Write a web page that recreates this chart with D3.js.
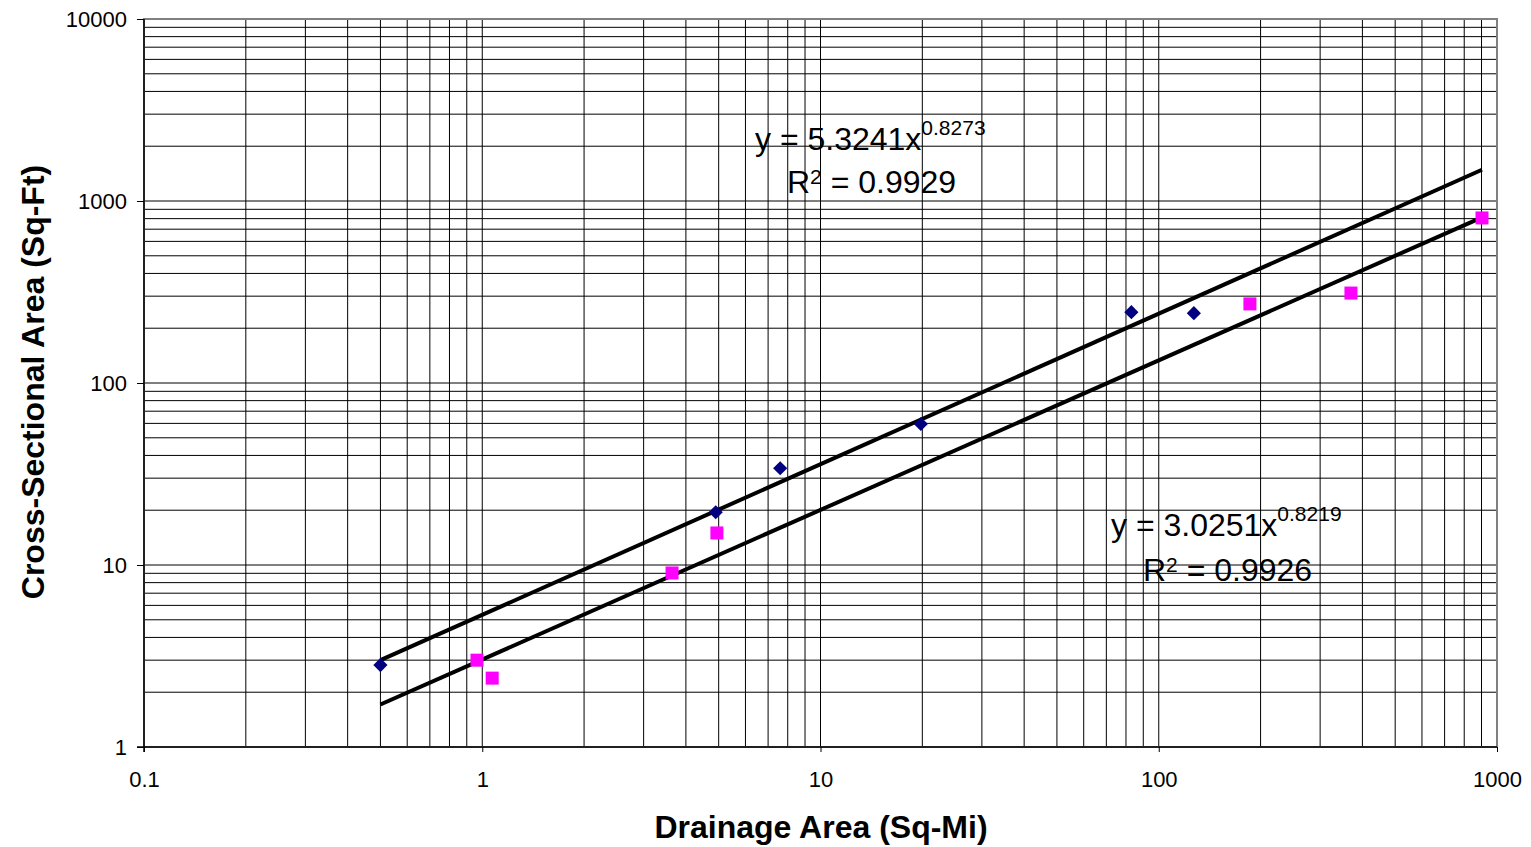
<!DOCTYPE html>
<html>
<head>
<meta charset="utf-8">
<script src="https://cdn.jsdelivr.net/npm/d3@7"></script>
<style>
  body { margin: 0; background: #fff; }
  svg { display: block; font-family: "Liberation Sans", Arial, sans-serif; }
</style>
</head>
<body>
<svg></svg>
<script>
// series 1 (navy diamonds)
let blueX = [0.5, 4.9, 7.6, 19.8, 83, 127]
let blueY = [2.82, 19.5, 34, 59.5, 245, 242]
// series 2 (magenta squares)
let pinkX = [0.965, 1.07, 3.64, 4.94, 186, 370, 903]
let pinkY = [3.0, 2.39, 9.04, 15.0, 272, 312, 807]

// power trend lines y = a * x^b
let fitA = [5.3241, 3.0251]
let fitB = [0.8273, 0.8219]
let fitR2 = ['0.9929', '0.9926']
let fitRange = [0.5, 903]

let xTicks = [0.1, 1, 10, 100, 1000]
let yTicks = [1, 10, 100, 1000, 10000]

let width = 1531
let height = 847
let plotL = 144, plotR = 1497, plotT = 19, plotB = 747

let svg = d3.select('svg').attr('width', width).attr('height', height)

let xScale = d3.scaleLog().domain([0.1, 1000]).range([plotL, plotR])
let yScale = d3.scaleLog().domain([1, 10000]).range([plotB, plotT])

let minorVals = (lo, hi) => {
  let out = []
  for (let d = lo; d < hi; d *= 10) {
    for (let k = 2; k <= 9; k++) out.push(d * k)
  }
  return out
}

// grid
let grid = svg.append('g')
let xGrid = xTicks.concat(minorVals(0.1, 1000))
let yGrid = yTicks.concat(minorVals(1, 10000))

grid.selectAll('line.gx')
  .data(xGrid)
  .enter()
  .append('line')
  .attr('x1', (d) => xScale(d)).attr('x2', (d) => xScale(d))
  .attr('y1', plotT).attr('y2', plotB)
  .attr('stroke', '#000').attr('stroke-width', 1)

grid.selectAll('line.gy')
  .data(yGrid)
  .enter()
  .append('line')
  .attr('y1', (d) => yScale(d)).attr('y2', (d) => yScale(d))
  .attr('x1', plotL).attr('x2', plotR)
  .attr('stroke', '#000').attr('stroke-width', 1)

// plot border
svg.append('rect')
  .attr('x', plotL).attr('y', plotT)
  .attr('width', plotR - plotL).attr('height', plotB - plotT)
  .attr('fill', 'none').attr('stroke', '#808080').attr('stroke-width', 2)

// axes
let xAxis = d3.axisBottom(xScale).tickValues(xTicks).tickFormat((d) => String(d)).tickSize(5).tickPadding(19)
let yAxis = d3.axisLeft(yScale).tickValues(yTicks).tickFormat((d) => String(d)).tickSize(7).tickPadding(10)

let gx = svg.append('g')
  .attr('transform', 'translate(0,' + plotB + ')')
  .call(xAxis)
let gy = svg.append('g')
  .attr('transform', 'translate(' + plotL + ',0)')
  .call(yAxis)

;[gx, gy].forEach((g) => {
  g.select('.domain').remove()
  g.selectAll('.tick line').attr('stroke', '#000')
  g.selectAll('.tick text').attr('font-size', 22).attr('fill', '#000')
    .style('font-family', '"Liberation Sans", Arial, sans-serif')
})
svg.append('line').attr('x1', plotL).attr('x2', plotL).attr('y1', plotT).attr('y2', plotB + 5)
  .attr('stroke', '#000').attr('stroke-width', 1.5)
svg.append('line').attr('x1', plotL - 7).attr('x2', plotR).attr('y1', plotB).attr('y2', plotB)
  .attr('stroke', '#000').attr('stroke-width', 1.5)

// trend lines
let line = d3.line().x((d) => xScale(d[0])).y((d) => yScale(d[1]))
fitA.forEach((a, i) => {
  let pts = fitRange.map((x) => [x, a * Math.pow(x, fitB[i])])
  svg.append('path')
    .attr('d', line(pts))
    .attr('fill', 'none')
    .attr('stroke', '#000')
    .attr('stroke-width', 4)
})

// points
let diamond = d3.symbol().type(d3.symbolDiamond2).size(128)
svg.selectAll('path.blue')
  .data(blueX)
  .enter()
  .append('path')
  .attr('d', diamond)
  .attr('transform', (d, i) => 'translate(' + xScale(d) + ',' + yScale(blueY[i]) + ')')
  .attr('fill', '#000080')

svg.selectAll('rect.pink')
  .data(pinkX)
  .enter()
  .append('rect')
  .attr('x', (d) => xScale(d) - 6.5)
  .attr('y', (d, i) => yScale(pinkY[i]) - 6.5)
  .attr('width', 13).attr('height', 13)
  .attr('fill', '#FF00FF')

// equation labels
let labelPos = [
  { x: 755, y: 150, rx: 787, ry: 193 },
  { x: 1111, y: 536, rx: 1143, ry: 581 }
]
fitA.forEach((a, i) => {
  let p = labelPos[i]
  let t = svg.append('text').attr('x', p.x).attr('y', p.y)
    .attr('font-size', 32).attr('fill', '#000')
  t.append('tspan').text('y = ' + a.toFixed(4) + 'x')
  t.append('tspan').attr('dy', -15).attr('font-size', 21).text(String(fitB[i]))
  let r = svg.append('text').attr('x', p.rx).attr('y', p.ry)
    .attr('font-size', 32).attr('fill', '#000')
  r.append('tspan').text('R')
  r.append('tspan').attr('dy', -9).attr('font-size', 21).text('2')
  r.append('tspan').attr('dy', 9).text(' = ' + fitR2[i])
})

// axis titles
svg.append('text')
  .attr('x', 821).attr('y', 838)
  .attr('text-anchor', 'middle')
  .attr('font-size', 32).attr('font-weight', 'bold')
  .text('Drainage Area (Sq-Mi)')

svg.append('text')
  .attr('transform', 'translate(44,' + 382 + ') rotate(-90)')
  .attr('text-anchor', 'middle')
  .attr('font-size', 32).attr('font-weight', 'bold')
  .text('Cross-Sectional Area (Sq-Ft)')
</script>
</body>
</html>
